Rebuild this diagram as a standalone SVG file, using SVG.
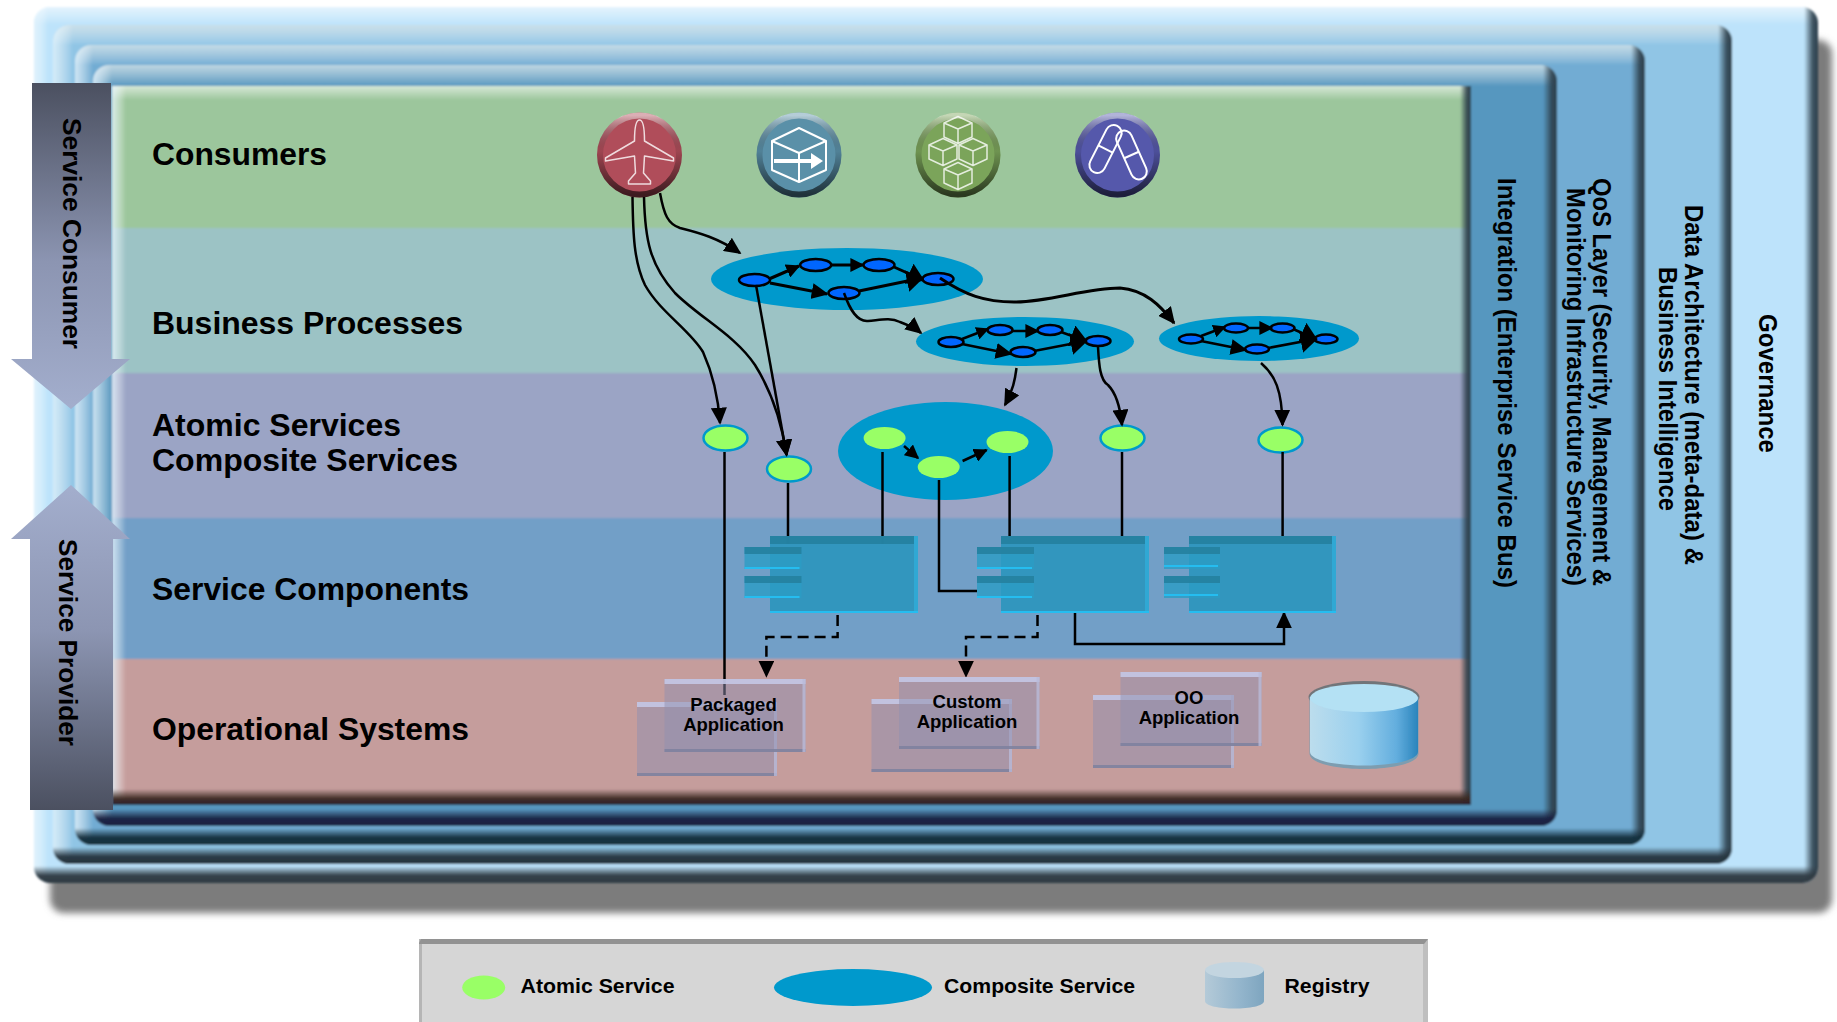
<svg xmlns="http://www.w3.org/2000/svg" xmlns:xlink="http://www.w3.org/1999/xlink" width="1837" height="1022" viewBox="0 0 1837 1022">
<style>
text{font-family:"Liberation Sans",Arial,sans-serif;font-weight:700;fill:#000}
.band{font-size:32px}
.side{font-size:26px}
.app{font-size:18.5px;text-anchor:middle}
.leg{font-size:21px}
.c{fill:none;stroke:#000;stroke-width:2.5}
.c3{fill:none;stroke:#000;stroke-width:3}
.d{fill:none;stroke:#000;stroke-width:2.5;stroke-dasharray:11 6}
.comp{fill:#0099cc}
.bn{fill:#0066ff;stroke:#000;stroke-width:2.5}
.at{fill:#99ff66;stroke:#0099cc;stroke-width:2.5}
.ai{fill:#99ff66}
.cface{fill:#2c95bd;fill-opacity:.92}
.ctop{fill:#247f9f;fill-opacity:.9}
.cbot{fill:#25bdf0}
.cright{fill:#30a8d4}
.tab{fill:#2a9cc4;fill-opacity:.8}
.ttop{fill:#25819f;fill-opacity:.9}
.opf{fill:#8f90b0;fill-opacity:.5}
.opt{fill:#c4c6e6;fill-opacity:.9}
.opb{fill:#80829e;fill-opacity:.9}
.opr{fill:#b9bad8;fill-opacity:.8}
.gl{fill:none;stroke:#fff;stroke-opacity:.8;stroke-width:1.5;stroke-linejoin:round}
.gs{fill:none;stroke:#fff;stroke-width:2;stroke-linejoin:round}
.ring{fill:none;stroke:url(#ringG);stroke-width:6}
</style>
<defs>
<filter id="blur" x="-5%" y="-5%" width="110%" height="110%"><feGaussianBlur stdDeviation="3.5"/></filter>
<filter id="blur1" x="-10%" y="-10%" width="120%" height="120%"><feGaussianBlur stdDeviation="1.5"/></filter>
<filter id="soft" filterUnits="userSpaceOnUse" x="0" y="0" width="1837" height="1022"><feGaussianBlur stdDeviation="1"/></filter>
<filter id="soft1" x="-5%" y="-5%" width="110%" height="110%"><feGaussianBlur stdDeviation=".7"/></filter>
<marker id="a" viewBox="0 0 10 10" preserveAspectRatio="none" refX="9" refY="5" markerUnits="userSpaceOnUse" markerWidth="17" markerHeight="16" orient="auto"><path d="M0,0 L10,5 L0,10 Z"/></marker>
<marker id="h" viewBox="0 0 10 10" preserveAspectRatio="none" refX="9" refY="5" markerUnits="userSpaceOnUse" markerWidth="17" markerHeight="22" orient="auto"><path d="M0,0 L10,5 L0,10 Z"/></marker>
<marker id="b" viewBox="0 0 10 10" preserveAspectRatio="none" refX="9" refY="5" markerUnits="userSpaceOnUse" markerWidth="14" markerHeight="14" orient="auto"><path d="M0,0 L10,5 L0,10 Z"/></marker>
<marker id="s" viewBox="0 0 10 10" preserveAspectRatio="none" refX="9" refY="5" markerUnits="userSpaceOnUse" markerWidth="13" markerHeight="13" orient="auto"><path d="M0,0 L10,5 L0,10 Z"/></marker>
<linearGradient id="gT" x1="0" y1="0" x2="0" y2="1"><stop offset="0" stop-color="#fff" stop-opacity=".6"/><stop offset="1" stop-color="#fff" stop-opacity="0"/></linearGradient>
<linearGradient id="gL" x1="0" y1="0" x2="1" y2="0"><stop offset="0" stop-color="#e6f5fd" stop-opacity=".8"/><stop offset="1" stop-color="#fff" stop-opacity="0"/></linearGradient>
<linearGradient id="gTP" x1="0" y1="0" x2="0" y2="1"><stop offset="0" stop-color="#d8e6ea" stop-opacity=".8"/><stop offset=".7" stop-color="#e8eef0" stop-opacity=".25"/><stop offset="1" stop-color="#fff" stop-opacity="0"/></linearGradient>
<linearGradient id="gR" x1="0" y1="0" x2="1" y2="0"><stop offset="0" stop-color="#2c3e4a" stop-opacity="0"/><stop offset=".6" stop-color="#2c3e4a" stop-opacity=".85"/><stop offset="1" stop-color="#2c3e4a"/></linearGradient>
<linearGradient id="gB0" x1="0" y1="0" x2="0" y2="1"><stop offset="0" stop-color="#2f3a42" stop-opacity="0"/><stop offset=".55" stop-color="#2f3a42" stop-opacity=".95"/><stop offset="1" stop-color="#2f3a42"/></linearGradient>
<linearGradient id="gB1" x1="0" y1="0" x2="0" y2="1"><stop offset="0" stop-color="#26343e" stop-opacity="0"/><stop offset=".55" stop-color="#26343e" stop-opacity=".95"/><stop offset="1" stop-color="#26343e"/></linearGradient>
<linearGradient id="gB2" x1="0" y1="0" x2="0" y2="1"><stop offset="0" stop-color="#142e3c" stop-opacity="0"/><stop offset=".55" stop-color="#142e3c" stop-opacity=".95"/><stop offset="1" stop-color="#142e3c"/></linearGradient>
<linearGradient id="gB3" x1="0" y1="0" x2="0" y2="1"><stop offset="0" stop-color="#1a2040" stop-opacity="0"/><stop offset=".55" stop-color="#1a2040" stop-opacity=".95"/><stop offset="1" stop-color="#1a2040"/></linearGradient>
<linearGradient id="gB4" x1="0" y1="0" x2="0" y2="1"><stop offset="0" stop-color="#3a2820" stop-opacity="0"/><stop offset=".6" stop-color="#3a2820" stop-opacity=".95"/><stop offset="1" stop-color="#2e2030"/></linearGradient>
<linearGradient id="arrowDown" x1="0" y1="0" x2="0" y2="1"><stop offset="0" stop-color="#4b5060"/><stop offset=".55" stop-color="#8c95b2"/><stop offset="1" stop-color="#a3aecd"/></linearGradient>
<linearGradient id="arrowUp" x1="0" y1="1" x2="0" y2="0"><stop offset="0" stop-color="#4b5060"/><stop offset=".55" stop-color="#8c95b2"/><stop offset="1" stop-color="#a3aecd"/></linearGradient>
<linearGradient id="ringG" x1="0" y1="0" x2="0" y2="1"><stop offset="0" stop-color="#fff" stop-opacity=".55"/><stop offset=".45" stop-color="#000" stop-opacity=".1"/><stop offset="1" stop-color="#000" stop-opacity=".65"/></linearGradient>
<linearGradient id="cyl" x1="0" y1="0" x2="1" y2="0"><stop offset="0" stop-color="#bcdded"/><stop offset=".45" stop-color="#9ad0ee"/><stop offset=".8" stop-color="#63aede"/><stop offset="1" stop-color="#2a84bc"/></linearGradient>
<linearGradient id="cylL" x1="0" y1="0" x2="1" y2="0"><stop offset="0" stop-color="#b4cad8"/><stop offset=".6" stop-color="#93b5cc"/><stop offset="1" stop-color="#7ea5bf"/></linearGradient>
<clipPath id="cp0"><rect x="34" y="7" width="1784" height="876" rx="16"/></clipPath>
<clipPath id="cp1"><rect x="53" y="25" width="1679" height="839" rx="16"/></clipPath>
<clipPath id="cp2"><rect x="75" y="45" width="1570" height="800" rx="16"/></clipPath>
<clipPath id="cp3"><rect x="93" y="65" width="1464" height="761" rx="16"/></clipPath>
<g id="cube"><path class="gl" d="M0,-13.500 L14,-7 L14,7 L0,13.500 L-14,7 L-14,-7 Z M-14,-7 L0,-1 L14,-7 M0,-1 L0,13.500"/></g>
</defs>

<rect id="shadow" x="50" y="40" width="1782" height="873" rx="14" fill="#7b7b7b" filter="url(#blur)"/>

<g id="panels" filter="url(#soft)">
<g id="panel-governance" clip-path="url(#cp0)">
<rect x="34" y="7" width="1784" height="876" fill="#bde3fb"/>
<rect x="34" y="7" width="1784" height="18" fill="url(#gT)"/>
<rect x="34" y="7" width="14" height="876" fill="url(#gL)"/>
<rect x="1804" y="7" width="14" height="876" fill="url(#gR)"/>
<rect x="34" y="866" width="1784" height="17" fill="url(#gB0)"/>
</g>
<g id="panel-data" clip-path="url(#cp1)">
<rect x="53" y="25" width="1679" height="839" fill="#90c5e5"/>
<rect x="53" y="25" width="1679" height="20" fill="url(#gTP)"/>
<rect x="53" y="25" width="20" height="839" fill="url(#gL)"/>
<rect x="1718" y="25" width="14" height="839" fill="url(#gR)"/>
<rect x="53" y="847" width="1679" height="17" fill="url(#gB1)"/>
</g>
<g id="panel-qos" clip-path="url(#cp2)">
<rect x="75" y="45" width="1570" height="800" fill="#72acd3"/>
<rect x="75" y="45" width="1570" height="20" fill="url(#gTP)"/>
<rect x="75" y="45" width="18" height="800" fill="url(#gL)"/>
<rect x="1631" y="45" width="14" height="800" fill="url(#gR)"/>
<rect x="75" y="828" width="1570" height="17" fill="url(#gB2)"/>
</g>
<g id="panel-integration" clip-path="url(#cp3)">
<rect x="93" y="65" width="1464" height="761" fill="#5797bf"/>
<rect x="93" y="65" width="1464" height="21" fill="url(#gTP)"/>
<rect x="93" y="65" width="19" height="761" fill="url(#gL)"/>
<rect x="1543" y="65" width="14" height="761" fill="url(#gR)"/>
<rect x="93" y="809" width="1464" height="17" fill="url(#gB3)"/>
</g>
<g id="bands">
<rect x="112" y="86" width="1359" height="142" fill="#9cc69c"/>
<rect x="112" y="228" width="1359" height="145" fill="#9cc3c5"/>
<rect x="112" y="373" width="1359" height="145" fill="#9ba4c5"/>
<rect x="112" y="518" width="1359" height="141" fill="#729fc7"/>
<rect x="112" y="659" width="1359" height="146" fill="#c59d9c"/>
<rect x="112" y="86" width="1359" height="14" fill="url(#gT)"/>
<rect x="112" y="86" width="14" height="719" fill="url(#gL)"/>
<rect x="1460" y="86" width="11" height="719" fill="url(#gR)"/>
<rect x="112" y="789" width="1359" height="16" fill="url(#gB4)"/>
</g>
</g>

<g id="service-consumer">
<path d="M32,83 H111 V359 H130 L71,409 L11,359 H32 Z" fill="url(#arrowDown)"/>
<text class="side" transform="translate(63,118) rotate(90)" textLength="231" lengthAdjust="spacingAndGlyphs">Service Consumer</text>
</g>
<g id="service-provider">
<path d="M30,810 H113 V539 H130 L71,485 L11,539 H30 Z" fill="url(#arrowUp)"/>
<text class="side" transform="translate(59,539) rotate(90)" textLength="207" lengthAdjust="spacingAndGlyphs">Service Provider</text>
</g>

<g id="labels">
<text class="band" x="152" y="165" textLength="175" lengthAdjust="spacingAndGlyphs">Consumers</text>
<text class="band" x="152" y="334" textLength="311" lengthAdjust="spacingAndGlyphs">Business Processes</text>
<text class="band" x="152" y="436" textLength="249" lengthAdjust="spacingAndGlyphs">Atomic Services</text>
<text class="band" x="152" y="471" textLength="306" lengthAdjust="spacingAndGlyphs">Composite Services</text>
<text class="band" x="152" y="600" textLength="317" lengthAdjust="spacingAndGlyphs">Service Components</text>
<text class="band" x="152" y="740" textLength="317" lengthAdjust="spacingAndGlyphs">Operational Systems</text>
<text class="side" transform="translate(1498,178) rotate(90)" textLength="410" lengthAdjust="spacingAndGlyphs">Integration (Enterprise Service Bus)</text>
<text class="side" transform="translate(1593,178) rotate(90)" textLength="408" lengthAdjust="spacingAndGlyphs">QoS Layer (Security, Management &amp;</text>
<text class="side" transform="translate(1567,188) rotate(90)" textLength="398" lengthAdjust="spacingAndGlyphs">Monitoring Infrastructure Services)</text>
<text class="side" transform="translate(1685,205) rotate(90)" textLength="360" lengthAdjust="spacingAndGlyphs">Data Architecture (meta-data) &amp;</text>
<text class="side" transform="translate(1659,267) rotate(90)" textLength="244" lengthAdjust="spacingAndGlyphs">Business Intelligence</text>
<text class="side" transform="translate(1759,314) rotate(90)" textLength="139" lengthAdjust="spacingAndGlyphs">Governance</text>
</g>

<g id="consumer-airline" transform="translate(639.500,155)">
<circle r="42.500" fill="#b04d5a"/><circle r="39.500" class="ring"/>
<path class="gl" d="M0,-35 C3,-35 5,-28 5,-14 L34,3 L34,6 L5,1 L4,18 L11,26 L11,29 L-11,29 L-11,26 L-4,18 L-5,1 L-34,6 L-34,3 L-5,-14 C-5,-28 -3,-35 0,-35 Z"/>
</g>
<g id="consumer-box" transform="translate(799,155)">
<circle r="42.500" fill="#5a90a8"/><circle r="39.500" class="ring"/>
<path class="gs" d="M0,-27 L27,-14 L27,15 L0,27 L-27,15 L-27,-14 Z M-27,-14 L0,-2 L27,-14 M0,-2 L0,27"/>
<path d="M-25,4 H12 V-2 L24,6 L12,14 V8 H-25 Z" fill="#fff"/>
</g>
<g id="consumer-cubes" transform="translate(958,155)">
<circle r="42.500" fill="#7ba45a"/><circle r="39.500" class="ring"/>
<use href="#cube" x="0" y="-25"/><use href="#cube" x="-15" y="-3"/><use href="#cube" x="15" y="-3"/><use href="#cube" x="0" y="21"/>
</g>
<g id="consumer-pills" transform="translate(1117.500,155)">
<circle r="42.500" fill="#5558ab"/><circle r="39.500" class="ring"/>
<g transform="rotate(27 -12 -6)"><rect x="-20" y="-32" width="16" height="52" rx="8" class="gs"/><path class="gs" d="M-20,-6 H-4"/></g>
<g transform="rotate(-24 14 0)"><rect x="6" y="-26" width="16" height="52" rx="8" class="gs"/><path class="gs" d="M6,0 H22"/></g>
</g>

<g id="composite-process-1">
<ellipse class="comp" cx="847" cy="279" rx="136" ry="31"/>
<ellipse class="bn" cx="754.500" cy="280" rx="15.500" ry="6"/><ellipse class="bn" cx="815.700" cy="265" rx="15.500" ry="6"/><ellipse class="bn" cx="879" cy="265" rx="15.500" ry="6"/><ellipse class="bn" cx="938" cy="279" rx="15.500" ry="6"/><ellipse class="bn" cx="844" cy="293" rx="15.500" ry="6"/>
</g>
<g id="composite-process-2">
<ellipse class="comp" cx="1025" cy="341.500" rx="109" ry="24.500"/>
<ellipse class="bn" cx="951" cy="342" rx="12.500" ry="5"/><ellipse class="bn" cx="1000" cy="330" rx="12.500" ry="5"/><ellipse class="bn" cx="1050" cy="330" rx="12.500" ry="5"/><ellipse class="bn" cx="1098" cy="341" rx="12.500" ry="5"/><ellipse class="bn" cx="1023" cy="352" rx="12.500" ry="5"/>
</g>
<g id="composite-process-3">
<ellipse class="comp" cx="1259" cy="338.500" rx="100" ry="22.500"/>
<ellipse class="bn" cx="1191" cy="339" rx="12" ry="4.500"/><ellipse class="bn" cx="1236" cy="328" rx="12" ry="4.500"/><ellipse class="bn" cx="1282.500" cy="328" rx="12" ry="4.500"/><ellipse class="bn" cx="1326" cy="339" rx="11.500" ry="4.500"/><ellipse class="bn" cx="1257" cy="349" rx="12" ry="4.500"/>
</g>
<g id="composite-service">
<ellipse class="comp" cx="945.500" cy="451" rx="107.500" ry="49"/>
<ellipse class="ai" cx="884.600" cy="438" rx="21" ry="11"/><ellipse class="ai" cx="938.700" cy="467" rx="21" ry="11"/><ellipse class="ai" cx="1007.500" cy="442" rx="21" ry="11"/>
</g>
<g id="atomic-1"><ellipse class="at" cx="725.500" cy="438" rx="22" ry="12.500"/></g>
<g id="atomic-2"><ellipse class="at" cx="789" cy="469" rx="22" ry="12.500"/></g>
<g id="atomic-3"><ellipse class="at" cx="1122.500" cy="438" rx="22" ry="12.500"/></g>
<g id="atomic-4"><ellipse class="at" cx="1280.500" cy="440" rx="22" ry="12.500"/></g>

<g id="connectors">
<path class="c" marker-end="url(#a)" d="M660,193 C664,215 668,224 680,228 C700,233 718,238 740,253"/>
<path class="c" marker-end="url(#a)" d="M632.500,197 C633,235 634,262 645,285 C660,312 690,330 703,352 C712,372 718,395 720,423"/>
<path class="c" marker-end="url(#a)" d="M644,197 C645,240 650,265 675,293 C700,318 735,335 755,365 C772,392 782,425 786.600,455"/>
<path class="c" marker-end="url(#a)" d="M756,285 L786.600,455"/>
<path class="c3" marker-end="url(#a)" d="M940,278 C965,295 985,302 1014,302 C1050,302 1085,288 1120,288 C1145,290 1160,305 1174,323"/>
<path class="c" marker-end="url(#a)" d="M844,293 C850,310 857,322 868,321 C880,320 890,317 900,322 C908,325 915,328 921,333"/>
<path class="c" marker-end="url(#a)" d="M1016.500,368 C1015,380 1013,390 1005,405"/>
<path class="c" marker-end="url(#a)" d="M1098,347 C1099,365 1100,380 1108,385 C1115,392 1120,405 1122,425"/>
<path class="c" marker-end="url(#a)" d="M1261,363 C1275,375 1282,390 1282.500,425"/>
<path class="c3" marker-end="url(#b)" d="M769,279 L799,266"/>
<path class="c3" marker-end="url(#b)" d="M831,265 L863,265"/>
<path class="c3" marker-end="url(#h)" d="M894,267 L923,280"/>
<path class="c3" marker-end="url(#a)" d="M770,283 L827,294"/>
<path class="c3" marker-end="url(#h)" d="M859,291 L922,278"/>
<path class="c" marker-end="url(#s)" d="M962,339 L988,329"/>
<path class="c" marker-end="url(#b)" d="M1012,331 L1038,331"/>
<path class="c" marker-end="url(#h)" d="M1061,332 L1086,341"/>
<path class="c" marker-end="url(#a)" d="M962,344 L1011,354"/>
<path class="c" marker-end="url(#h)" d="M1034,351 L1086,341"/>
<path class="c" marker-end="url(#s)" d="M1201,336 L1225,327"/>
<path class="c" marker-end="url(#b)" d="M1247,328 L1272,328"/>
<path class="c" marker-end="url(#h)" d="M1293,329 L1316,339"/>
<path class="c" marker-end="url(#a)" d="M1201,341 L1246,350"/>
<path class="c" marker-end="url(#h)" d="M1268,348 L1316,339"/>
<path class="c" marker-end="url(#b)" d="M904,446 L918,458"/>
<path class="c" marker-end="url(#b)" d="M962.600,461 L986.600,450"/>
<path class="c" d="M724.500,452 V695"/>
<path class="c" d="M788,483 V544"/>
<path class="c" d="M882.500,452 V544"/>
<path class="c" d="M939,480 V591 H977"/>
<path class="c" d="M1009.600,456 V536"/>
<path class="c" d="M1122,452 V536"/>
<path class="c" d="M1282.600,452 V536"/>
<path class="d" marker-end="url(#a)" d="M837.600,615 V637 H766.400 V676"/>
<path class="d" marker-end="url(#a)" d="M1037.500,615 V637 H966 V676"/>
<path class="c" marker-end="url(#a)" d="M1075,613 V644 H1284 V613"/>
</g>

<g id="component-1">
<rect class="cface" x="770" y="536" width="148" height="77"/><rect class="ctop" x="770" y="536" width="148" height="8"/><rect class="cright" x="914" y="536" width="4" height="77"/><rect class="cbot" x="770" y="611" width="148" height="2"/>
<rect class="tab" x="744.500" y="547" width="57" height="22"/><rect class="ttop" x="744.500" y="547" width="57" height="7"/><rect class="cbot" x="744.500" y="567" width="55" height="2"/>
<rect class="tab" x="744.500" y="576" width="57" height="22"/><rect class="ttop" x="744.500" y="576" width="57" height="7"/><rect class="cbot" x="744.500" y="596" width="55" height="2"/>
</g>
<g id="component-2">
<rect class="cface" x="1001" y="536" width="148" height="77"/><rect class="ctop" x="1001" y="536" width="148" height="8"/><rect class="cright" x="1145" y="536" width="4" height="77"/><rect class="cbot" x="1001" y="611" width="148" height="2"/>
<rect class="tab" x="977" y="547" width="57" height="22"/><rect class="ttop" x="977" y="547" width="57" height="7"/><rect class="cbot" x="977" y="567" width="55" height="2"/>
<rect class="tab" x="977" y="576" width="57" height="22"/><rect class="ttop" x="977" y="576" width="57" height="7"/><rect class="cbot" x="977" y="596" width="55" height="2"/>
</g>
<g id="component-3">
<rect class="cface" x="1189" y="536" width="147" height="77"/><rect class="ctop" x="1189" y="536" width="147" height="8"/><rect class="cright" x="1332" y="536" width="4" height="77"/><rect class="cbot" x="1189" y="611" width="147" height="2"/>
<rect class="tab" x="1164" y="547" width="56" height="22"/><rect class="ttop" x="1164" y="547" width="56" height="7"/><rect class="cbot" x="1164" y="565" width="54" height="2"/>
<rect class="tab" x="1164" y="576" width="56" height="22"/><rect class="ttop" x="1164" y="576" width="56" height="7"/><rect class="cbot" x="1164" y="594" width="54" height="2"/>
</g>

<g id="packaged-application">
<rect class="opf" x="637" y="702" width="140" height="74"/><rect class="opt" x="637" y="702" width="140" height="5"/><rect class="opb" x="637" y="773" width="140" height="3"/><rect class="opr" x="774" y="702" width="3" height="74"/>
<rect class="opf" x="664.500" y="679" width="141" height="73"/><rect class="opt" x="664.500" y="679" width="141" height="5"/><rect class="opb" x="664.500" y="749" width="141" height="3"/><rect class="opr" x="802.500" y="679" width="3" height="73"/>
<text class="app" x="733.500" y="711">Packaged</text><text class="app" x="733.500" y="731">Application</text>
</g>
<g id="custom-application">
<rect class="opf" x="871.500" y="699" width="140.500" height="73"/><rect class="opt" x="871.500" y="699" width="140.500" height="5"/><rect class="opb" x="871.500" y="769" width="140.500" height="3"/><rect class="opr" x="1009" y="699" width="3" height="73"/>
<rect class="opf" x="899" y="677" width="140.500" height="72"/><rect class="opt" x="899" y="677" width="140.500" height="5"/><rect class="opb" x="899" y="746" width="140.500" height="3"/><rect class="opr" x="1036.500" y="677" width="3" height="72"/>
<text class="app" x="967" y="708">Custom</text><text class="app" x="967" y="728">Application</text>
</g>
<g id="oo-application">
<rect class="opf" x="1093" y="695" width="141" height="73"/><rect class="opt" x="1093" y="695" width="141" height="5"/><rect class="opb" x="1093" y="765" width="141" height="3"/><rect class="opr" x="1231" y="695" width="3" height="73"/>
<rect class="opf" x="1120.500" y="672" width="141" height="74"/><rect class="opt" x="1120.500" y="672" width="141" height="5"/><rect class="opb" x="1120.500" y="743" width="141" height="3"/><rect class="opr" x="1258.500" y="672" width="3" height="74"/>
<text class="app" x="1189" y="704">OO</text><text class="app" x="1189" y="724">Application</text>
</g>

<g id="registry" filter="url(#soft1)">
<ellipse cx="1364" cy="697" rx="55.500" ry="16" fill="#5c6a70" opacity=".8"/>
<path d="M1309.500,697 V754 C1312,774 1416,774 1418.500,754 V697 Z" fill="#7d9db0"/>
<path d="M1310,697 V752 C1312,770 1416,770 1418,752 V697 Z" fill="url(#cyl)"/>
<ellipse cx="1364" cy="698" rx="54" ry="14" fill="#b4e1f4"/>
</g>

<g id="legend">
<rect x="419" y="939" width="1009" height="83" fill="#d6d6d6"/>
<rect x="419" y="939" width="3" height="83" fill="#b5b5b5"/>
<rect x="1423" y="939" width="5" height="83" fill="#bfbfbf"/>
<path d="M419,943 L421,939 H1428 L1424,944 H419 Z" fill="#929292"/>
<ellipse class="ai" cx="483.700" cy="987.500" rx="21.500" ry="12"/>
<text class="leg" x="520.500" y="993" textLength="154" lengthAdjust="spacingAndGlyphs">Atomic Service</text>
<ellipse class="comp" cx="853" cy="987.500" rx="79" ry="18.500"/>
<text class="leg" x="944" y="993" textLength="191" lengthAdjust="spacingAndGlyphs">Composite Service</text>
<path d="M1205,970 V1001 C1205,1011 1264,1011 1264,1001 V970 Z" fill="url(#cylL)"/>
<ellipse cx="1234.500" cy="970" rx="29.500" ry="8" fill="#c3d5e0"/>
<text class="leg" x="1284.500" y="993" textLength="85" lengthAdjust="spacingAndGlyphs">Registry</text>
</g>
</svg>
